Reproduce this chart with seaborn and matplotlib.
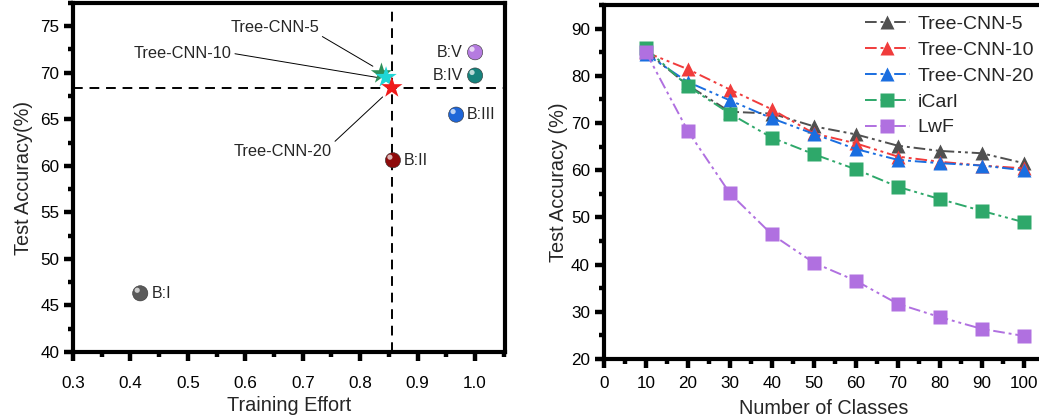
import matplotlib
matplotlib.use('Agg')
import matplotlib.pyplot as plt
import matplotlib.transforms as mtransforms
from matplotlib.ticker import MultipleLocator
import pandas as pd
import seaborn as sns

# ---- left panel: accuracy vs training effort ----
base_names = ['B:I', 'B:II', 'B:III', 'B:IV', 'B:V']
base_effort = [0.417, 0.857, 0.967, 1.0, 1.0]
base_acc = [46.3, 60.6, 65.5, 69.7, 72.2]
base_colors = ['#5a5a5a', '#8e0b0b', '#1f66d8', '#17827c', '#b57be0']

tree_names = ['Tree-CNN-5', 'Tree-CNN-10', 'Tree-CNN-20']
tree_effort = [0.837, 0.845, 0.855]
tree_acc = [69.9, 69.5, 68.4]
tree_colors = ['#2e8f5a', '#1fd6d6', '#f01a1a']

ref_effort = 0.855
ref_acc = 68.4

# ---- right panel: accuracy vs number of classes ----
classes = [10, 20, 30, 40, 50, 60, 70, 80, 90, 100]
tree5 = [85.2, 78.0, 72.4, 72.0, 69.3, 67.6, 65.2, 64.1, 63.6, 61.5]
tree10 = [85.0, 81.4, 77.1, 72.9, 67.8, 65.7, 62.9, 61.8, 61.0, 60.4]
tree20 = [84.6, 78.7, 74.8, 71.0, 67.7, 64.5, 62.2, 61.5, 61.0, 60.0]
icarl = [85.8, 77.8, 72.0, 66.9, 63.4, 60.2, 56.5, 53.9, 51.4, 49.0]
lwf = [85.0, 68.3, 55.1, 46.4, 40.4, 36.6, 31.7, 28.9, 26.4, 24.9]

series_names = ['Tree-CNN-5', 'Tree-CNN-10', 'Tree-CNN-20', 'iCarl', 'LwF']
series_values = [tree5, tree10, tree20, icarl, lwf]
series_colors = ['#505050', '#f03c3c', '#1a6ee0', '#2ea86a', '#b070e0']
series_markers = ['^', '^', '^', 's', 's']

sns.set_theme(style='ticks')
plt.rcParams['font.family'] = ['Liberation Sans', 'DejaVu Sans']
plt.rcParams['axes.linewidth'] = 3.0
for ax_name in ('xtick', 'ytick'):
    plt.rcParams[f'{ax_name}.major.width'] = 3.2
    plt.rcParams[f'{ax_name}.minor.width'] = 3.2
    plt.rcParams[f'{ax_name}.major.size'] = 6.5
    plt.rcParams[f'{ax_name}.minor.size'] = 3.5
    plt.rcParams[f'{ax_name}.labelsize'] = 12.3
    plt.rcParams[f'{ax_name}.color'] = 'black'

fig = plt.figure(figsize=(10.39, 4.19), dpi=100)
ax1 = fig.add_axes([0.0703, 0.160, 0.4157, 0.833])
ax2 = fig.add_axes([0.5813, 0.143, 0.4222, 0.845])

# --- left panel ---
ax1.axvline(ref_effort, color='black', lw=1.4, ls=(0, (5, 3.5)), zorder=1)
ax1.axhline(ref_acc, color='black', lw=1.4, ls=(0, (5, 3.5)), zorder=1)

base_df = pd.DataFrame({'effort': base_effort, 'acc': base_acc, 'name': base_names})
sns.scatterplot(data=base_df, x='effort', y='acc', hue='name', palette=base_colors,
                s=120, edgecolor='#333333', linewidth=0.4, legend=False, ax=ax1, zorder=3)
# small highlight to give the markers a glossy look
shift = mtransforms.ScaledTranslation(-2.2 / 72, 2.2 / 72, fig.dpi_scale_trans)
hl = ax1.scatter(base_effort, base_acc, s=14, color='white', alpha=0.7,
                 edgecolors='none', zorder=4)
hl.set_offset_transform(ax1.transData + shift)

tree_df = pd.DataFrame({'effort': tree_effort, 'acc': tree_acc, 'name': tree_names})
sns.scatterplot(data=tree_df, x='effort', y='acc', hue='name', palette=tree_colors,
                marker='*', s=260, edgecolor='none', legend=False, ax=ax1, zorder=5)

for name, x, y in zip(base_names, base_effort, base_acc):
    if name in ('B:IV', 'B:V'):
        ax1.annotate(name, (x, y), xytext=(-9, 0), textcoords='offset points',
                     ha='right', va='center', fontsize=11.5)
    else:
        ax1.annotate(name, (x, y), xytext=(8, 0), textcoords='offset points',
                     ha='left', va='center', fontsize=11.5)

line_kw = dict(arrowstyle='-', lw=0.7, color='black', shrinkA=0, shrinkB=0)
ax1.annotate('Tree-CNN-5', xy=(0.822, 70.7), xytext=(0.651, 74.9), ha='center',
             va='center', fontsize=11.8, arrowprops=dict(relpos=(1, 0), **line_kw))
ax1.annotate('Tree-CNN-10', xy=(0.829, 69.5), xytext=(0.491, 72.1), ha='center',
             va='center', fontsize=11.8, arrowprops=dict(relpos=(1, 0.5), **line_kw))
ax1.annotate('Tree-CNN-20', xy=(0.839, 67.4), xytext=(0.665, 61.5), ha='center',
             va='center', fontsize=11.8, arrowprops=dict(relpos=(1, 1), **line_kw))

ax1.set_xlim(0.3, 1.052)
ax1.set_ylim(40, 77.5)
ax1.xaxis.set_minor_locator(MultipleLocator(0.05))
ax1.yaxis.set_major_locator(MultipleLocator(5))
ax1.yaxis.set_minor_locator(MultipleLocator(2.5))
ax1.set_xticks([0.3, 0.4, 0.5, 0.6, 0.7, 0.8, 0.9, 1.0])
ax1.set_xticklabels(['0.3', '0.4', '0.5', '0.6', '0.7', '0.8', '0.9', '1.0'])
ax1.tick_params(axis='x', which='major', pad=11)
ax1.set_xlabel('Training Effort', fontsize=14.3, labelpad=3.5)
ax1.set_ylabel('Test Accuracy(%)', fontsize=14.3, labelpad=5)

# --- right panel ---
dash_dot_dot = (0, (6, 2, 1.5, 2, 1.5, 2))
for name, vals, color, mk in zip(series_names, series_values, series_colors, series_markers):
    df = pd.DataFrame({'classes': classes, 'acc': vals})
    sns.lineplot(data=df, x='classes', y='acc', color=color, marker=mk, markersize=10,
                 markeredgecolor='none', linewidth=1.4, linestyle=dash_dot_dot,
                 label=name, ax=ax2)

ax2.set_xlim(0, 104.5)
ax2.set_ylim(20, 95)
ax2.xaxis.set_major_locator(MultipleLocator(10))
ax2.xaxis.set_minor_locator(MultipleLocator(5))
ax2.yaxis.set_major_locator(MultipleLocator(10))
ax2.yaxis.set_minor_locator(MultipleLocator(5))
ax2.tick_params(axis='x', which='major', pad=5.5)
ax2.set_xlabel('Number of Classes', fontsize=14.3, labelpad=6)
ax2.set_ylabel('Test Accuracy (%)', fontsize=14.3, labelpad=2)
ax2.legend(loc='upper left', bbox_to_anchor=(0.595, 0.970), frameon=False,
           fontsize=14, handlelength=2.3, handletextpad=0.4, labelspacing=0.42,
           borderaxespad=0, borderpad=0)

for ax in (ax1, ax2):
    for side in ('top', 'right', 'left', 'bottom'):
        ax.spines[side].set_visible(True)
        ax.spines[side].set_color('black')
    ax.tick_params(which='both', direction='out', top=False, right=False)

fig.savefig('out.png', dpi=100)
